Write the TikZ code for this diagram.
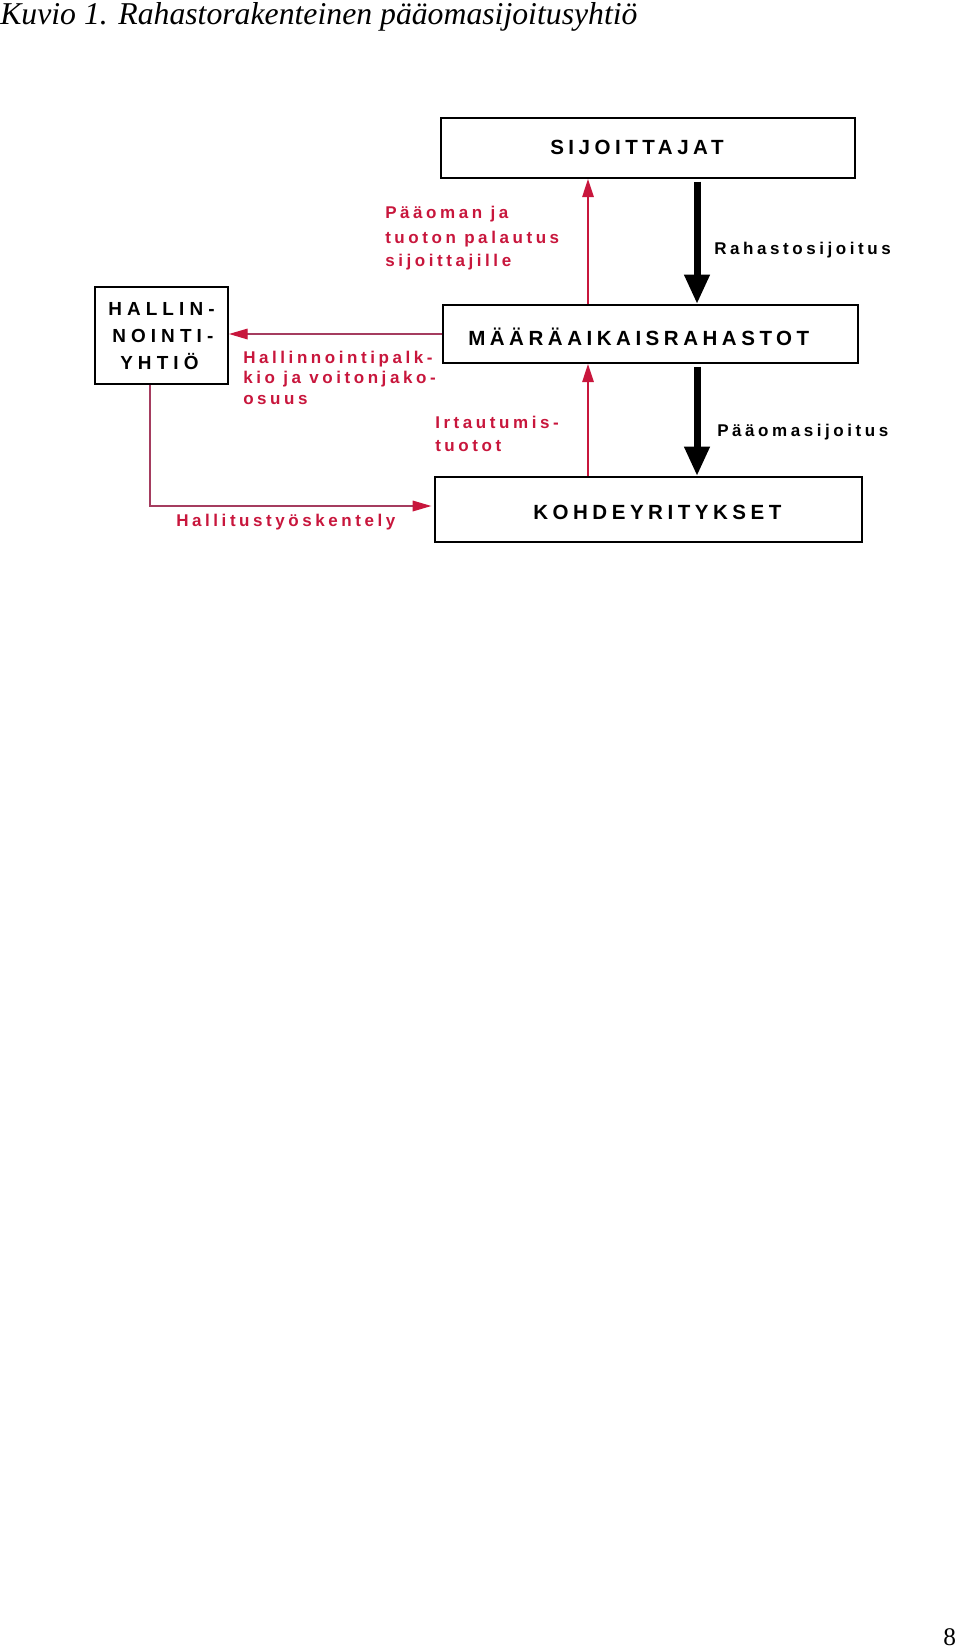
\documentclass[tikz,border=0pt]{standalone}
\usepackage{fontspec}
\setmainfont{Liberation Serif}
\newfontfamily\sfsp[LetterSpace=22]{Liberation Sans Bold}
\newfontfamily\sfwide[LetterSpace=27]{Liberation Sans Bold}
\newfontfamily\sflbl[LetterSpace=21]{Liberation Sans Bold}
\usetikzlibrary{arrows.meta}
\definecolor{fred}{RGB}{200,22,60}
\definecolor{fmuted}{RGB}{165,60,95}
\begin{document}
\begin{tikzpicture}[x=0.75pt,y=-0.75pt,
  box/.style={draw=black, line width=1.5pt, inner sep=0pt, fill=white},
  boxtxt/.style={anchor=base west, inner sep=0pt, font=\sfsp\fontsize{15.4pt}{18pt}\selectfont},
  haltxt/.style={anchor=base west, inner sep=0pt, font=\sfwide\fontsize{14.2pt}{17pt}\selectfont},
  redlbl/.style={anchor=base west, inner sep=0pt, text=fred, font=\sflbl\fontsize{12.75pt}{15pt}\selectfont},
  blklbl/.style={anchor=base west, inner sep=0pt, text=black, font=\sflbl\fontsize{12.75pt}{15pt}\selectfont},
  redarrow/.style={draw=fred, line width=1.3pt, -{Triangle[length=13.5pt,width=8.5pt]}},
  mutedarrow/.style={draw=fmuted, line width=0.9pt, -{Triangle[length=14pt,width=8pt,color=fred]}},
  bigarrow/.style={draw=black, line width=5.25pt, -{Triangle[length=22pt,width=18pt]}}
]
\useasboundingbox (0,0) rectangle (960,1648);

% title and page number
\node[anchor=base west, inner sep=0pt, font=\fontsize{23.8pt}{28pt}\selectfont\itshape] (title) at (0,25) {Kuvio 1. Rahastorakenteinen pääomasijoitusyhtiö};
\node[anchor=base west, inner sep=0pt, font=\fontsize{19pt}{22pt}\selectfont] (pageno) at (943,1645) {8};

% boxes
\node[box, minimum width={414*0.75pt}, minimum height={60*0.75pt}] (sij) at (648,148) {};
\node[box, minimum width={133*0.75pt}, minimum height={97*0.75pt}] (hal) at (161.5,335.5) {};
\node[box, minimum width={415*0.75pt}, minimum height={58*0.75pt}] (maar) at (650.5,334) {};
\node[box, minimum width={427*0.75pt}, minimum height={65*0.75pt}] (koh) at (648.5,509.5) {};

% box texts
\node[boxtxt] (sijt) at (550,155) {SIJOITTAJAT};
\node[boxtxt] (maart) at (468,345) {MÄÄRÄAIKAISRAHASTOT};
\node[boxtxt] (koht) at (533,519.3) {KOHDEYRITYKSET};
\node[haltxt] (halt1) at (108,315) {HALLIN-};
\node[haltxt] (halt2) at (112,342.7) {NOINTI-};
\node[haltxt] (halt3) at (120,369.3) {YHTIÖ};

% helper coordinates
\coordinate (xr1) at (588,0);
\coordinate (xb) at (697,0);
\coordinate (xh) at (150,0);
\coordinate (yh) at (0,506);

% connectors
\draw[redarrow] (maar.north -| xr1) -- (sij.south -| xr1);
\draw[redarrow] (koh.north -| xr1) -- (maar.south -| xr1);
\draw[bigarrow] ([yshift=-2pt]sij.south -| xb) -- (maar.north -| xb);
\draw[bigarrow] ([yshift=-2pt]maar.south -| xb) -- (koh.north -| xb);
\draw[mutedarrow] (maar.west) -- (maar.west -| hal.east);
\draw[mutedarrow] (hal.south -| xh) -- (xh |- yh) -- ([xshift=-2pt]koh.west |- yh);

% labels
\node[redlbl] (l1a) at (385,218.3) {Pääoman ja};
\node[redlbl] (l1b) at (385,243.3) {tuoton palautus};
\node[redlbl] (l1c) at (385,266.7) {sijoittajille};
\node[blklbl] (l2) at (714,254) {Rahastosijoitus};
\node[redlbl] (l3a) at (243,363.3) {Hallinnointipalk-};
\node[redlbl] (l3b) at (243,383.3) {kio ja voitonjako-};
\node[redlbl] (l3c) at (243,404) {osuus};
\node[redlbl] (l4a) at (435,428.3) {Irtautumis-};
\node[redlbl] (l4b) at (435,451.7) {tuotot};
\node[blklbl] (l5) at (717,436) {Pääomasijoitus};
\node[redlbl] (l6) at (176,526.7) {Hallitustyöskentely};
\end{tikzpicture}
\end{document}
